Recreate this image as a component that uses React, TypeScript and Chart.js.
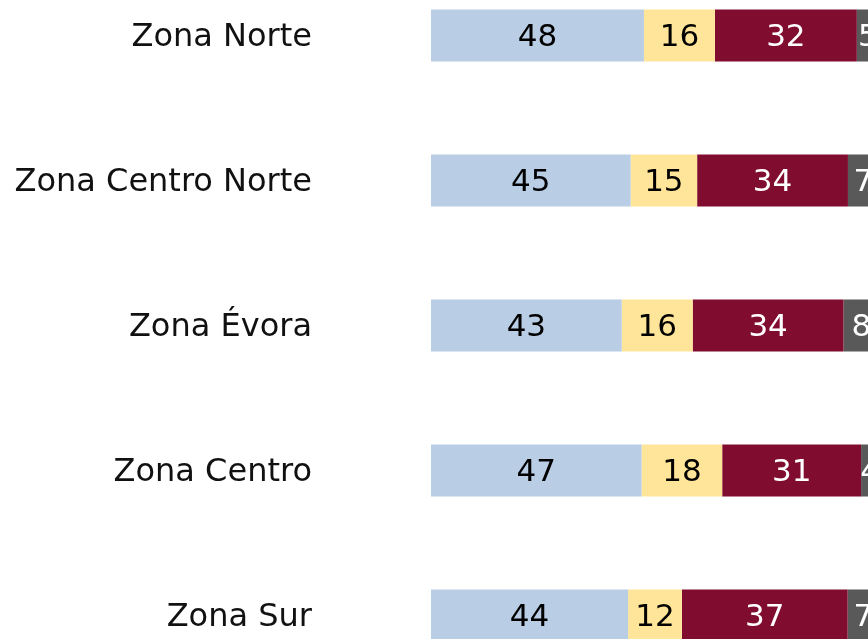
import React, { useEffect, useRef } from "react";
import { Chart, registerables } from "chart.js";

Chart.register(...registerables);

const categories = ["Zona Norte", "Zona Centro Norte", "Zona Évora", "Zona Centro", "Zona Sur"];
const seriesNames = ["Serie 1", "Serie 2", "Serie 3", "Serie 4"];
const serie1 = [48, 45, 43, 47, 44];
const serie2 = [16, 15, 16, 18, 12];
const serie3 = [32, 34, 34, 31, 37];
const serie4 = [5, 7, 8, 4, 7];

const rawSeries = [serie1, serie2, serie3, serie4];
const colors = ["#b9cde5", "#ffe599", "#800c30", "#595959"];
const labelColors = ["#000000", "#000000", "#ffffff", "#ffffff"];
const FONT = "'DejaVu Sans', sans-serif";

const totals = categories.map((_, i) => rawSeries.reduce((s, arr) => s + arr[i], 0));

const labelPlugin = {
  id: "segLabels",
  afterDatasetsDraw(chart: any) {
    const ctx = chart.ctx;
    ctx.save();
    ctx.textBaseline = "middle";
    // category labels
    const yScale = chart.scales.y;
    ctx.font = `32px ${FONT}`;
    ctx.textAlign = "right";
    ctx.fillStyle = "#111111";
    categories.forEach((c, i) => {
      ctx.fillText(c, chart.chartArea.left - 119, yScale.getPixelForValue(i) + 2);
    });
    // segment labels
    ctx.font = `31px ${FONT}`;
    ctx.textAlign = "center";
    chart.data.datasets.forEach((ds: any, di: number) => {
      const meta = chart.getDatasetMeta(di);
      meta.data.forEach((bar: any, i: number) => {
        const p = bar.getProps(["x", "base", "y"], true);
        const cx = (p.x + p.base) / 2;
        ctx.fillStyle = labelColors[di];
        ctx.fillText(String(rawSeries[di][i]), cx, p.y + 2);
      });
    });
    ctx.restore();
  },
};

export default function App() {
  const ref = useRef<HTMLCanvasElement | null>(null);
  useEffect(() => {
    if (!ref.current) return;
    const chart = new Chart(ref.current, {
      type: "bar",
      data: {
        labels: categories,
        datasets: rawSeries.map((arr, di) => ({
          label: seriesNames[di],
          data: arr.map((v, i) => (v / totals[i]) * 100),
          backgroundColor: colors[di],
          borderWidth: 0,
          barPercentage: 52 / 145,
          categoryPercentage: 1,
        })),
      },
      options: {
        indexAxis: "y",
        responsive: false,
        maintainAspectRatio: false,
        animation: false,
        devicePixelRatio: 1,
        layout: { padding: 0 },
        plugins: { legend: { display: false }, tooltip: { enabled: false } },
        scales: {
          x: { display: false, stacked: true, min: 0, max: 100 },
          y: {
            stacked: true,
            grid: { display: false, drawTicks: false },
            border: { display: false },
            ticks: { display: false },
            afterFit: (s: any) => {
              s.width = 431;
              s.paddingTop = 0;
              s.paddingBottom = 0;
            },
          },
        },
      },
      plugins: [labelPlugin],
    } as any);
    return () => chart.destroy();
  }, []);
  return (
    <div style={{ position: "fixed", left: 0, top: -37, width: 879, height: 725, background: "#fff" }}>
      <canvas ref={ref} width={879} height={725} style={{ display: "block" }} />
    </div>
  );
}
